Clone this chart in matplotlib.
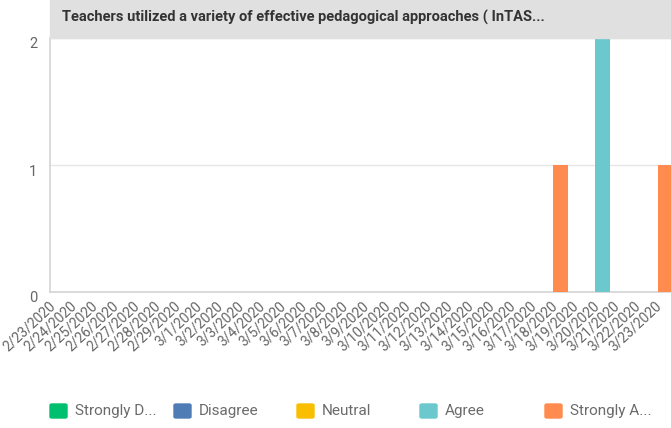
import matplotlib.pyplot as plt
import matplotlib.patches as mpatches
import matplotlib.transforms as mtransforms
import numpy as np

dates = ['2/23/2020', '2/24/2020', '2/25/2020', '2/26/2020', '2/27/2020', '2/28/2020',
         '2/29/2020', '3/1/2020', '3/2/2020', '3/3/2020', '3/4/2020', '3/5/2020',
         '3/6/2020', '3/7/2020', '3/8/2020', '3/9/2020', '3/10/2020', '3/11/2020',
         '3/12/2020', '3/13/2020', '3/14/2020', '3/15/2020', '3/16/2020', '3/17/2020',
         '3/18/2020', '3/19/2020', '3/20/2020', '3/21/2020', '3/22/2020', '3/23/2020']

series_names = ['Strongly D...', 'Disagree', 'Neutral', 'Agree', 'Strongly A...']
series_colors = ['#00BF6F', '#507CB6', '#F9BE00', '#6BC8CD', '#FF8B4F']

strongly_disagree = [0] * 30
disagree = [0] * 30
neutral = [0] * 30
agree = [0] * 26 + [2, 0, 0, 0]
strongly_agree = [0] * 24 + [1, 0, 0, 0, 0, 1]
values = [strongly_disagree, disagree, neutral, agree, strongly_agree]

title = 'Teachers utilized a variety of effective pedagogical approaches ( InTAS...'

plt.rcParams['font.family'] = ['Roboto', 'DejaVu Sans']

W, H = 671, 428
fig = plt.figure(figsize=(W / 100, H / 100), dpi=100)

# axes box in pixels: left spine at 50, top at 38, bottom at 292
ax = fig.add_axes([50 / W, (H - 292) / H, 1 - 50 / W, 254 / H])

x = np.arange(len(dates))
bottom = np.zeros(len(dates))
for vals, c in zip(values, series_colors):
    vals = np.array(vals, dtype=float)
    ax.bar(x, vals, width=0.72, bottom=bottom, color=c, zorder=3)
    bottom += vals

ax.set_xlim(-0.44, 29.27)
ax.set_ylim(0, 2)
ax.set_yticks([0, 1, 2])
ax.yaxis.grid(True, color='#e6e6e6', linewidth=1)
ax.set_axisbelow(True)

for s in ['top', 'right']:
    ax.spines[s].set_visible(False)
ax.spines['left'].set_color('#d4d4d4')
ax.spines['bottom'].set_color('#d4d4d4')
ax.spines['left'].set_linewidth(1.2)
ax.spines['bottom'].set_linewidth(1.2)

ax.tick_params(axis='both', length=0, colors='#666666')
ax.tick_params(axis='y', labelsize=10.5, pad=9)
ax.set_xticks(x)
ax.set_xticklabels(dates, rotation=43, ha='right', fontsize=10, color='#666666')
ax.tick_params(axis='x', pad=5)

off = mtransforms.ScaledTranslation(0, -5 / 100, fig.dpi_scale_trans)
for lab in ax.get_yticklabels():
    lab.set_transform(lab.get_transform() + off)
offx = mtransforms.ScaledTranslation(-1 / 100, 0, fig.dpi_scale_trans)
for lab in ax.get_xticklabels():
    lab.set_transform(lab.get_transform() + offx)

# title band
fig.patches.append(mpatches.Rectangle((50 / W, 1 - 38 / H), 1 - 50 / W, 38 / H,
                                      transform=fig.transFigure, color='#e0e0e0', zorder=0))
fig.text(62 / W, 1 - 17 / H, title, fontsize=10.5, fontweight='semibold', color='#333333',
         va='center', ha='left')

# legend
leg_x = [50, 174, 297, 420, 545]
leg_y = 411
for lx, name, c in zip(leg_x, series_names, series_colors):
    fig.patches.append(mpatches.FancyBboxPatch((lx / W, 1 - (leg_y + 7) / H), 17 / W, 14 / H,
                                               boxstyle='round,pad=0,rounding_size=0.003',
                                               transform=fig.transFigure, color=c))
    fig.text((lx + 25) / W, 1 - leg_y / H, name, fontsize=11, color='#6b6b6b',
             va='center', ha='left')

fig.savefig('out.png', dpi=100)
